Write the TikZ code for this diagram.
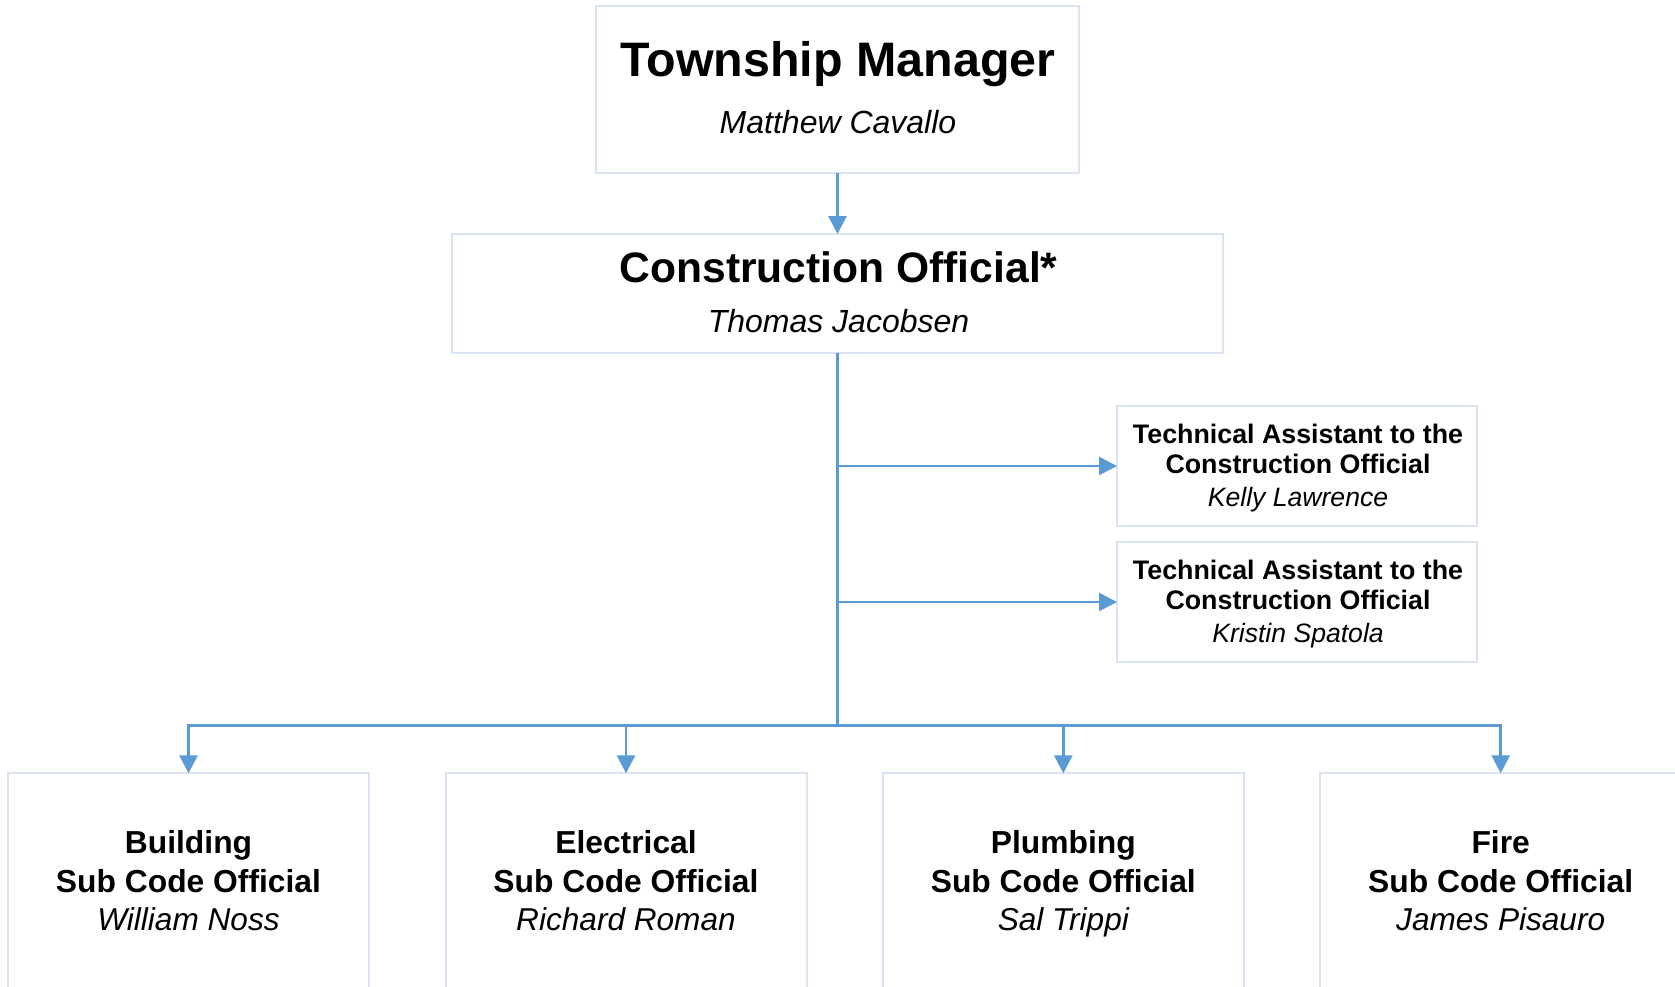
\documentclass[tikz,border=0pt]{standalone}
\usepackage{fontspec}
\setmainfont{Liberation Sans}
\usetikzlibrary{arrows.meta}
\definecolor{linkblue}{HTML}{5B9BD5}
\definecolor{boxline}{RGB}{218,227,243}
\begin{document}
\begin{tikzpicture}[x=1pt,y=-1pt,
  box/.style={rectangle,draw=boxline,line width=2pt,fill=white,inner sep=0pt,outer sep=0pt},
  conn/.style={draw=linkblue,line width=2.8pt},
  arr/.style={conn,-{Triangle[length=18pt,width=18pt]}},
  lbl/.style={anchor=base,inner sep=0pt,outer sep=0pt},
  big/.style={lbl,font=\fontsize{48.4}{56}\selectfont\bfseries},
  bigname/.style={lbl,font=\fontsize{32}{36}\selectfont\itshape},
  mid/.style={lbl,font=\fontsize{42.6}{50}\selectfont\bfseries},
  midname/.style={lbl,font=\fontsize{32}{36}\selectfont\itshape},
  small/.style={lbl,font=\fontsize{26.8}{30}\selectfont\bfseries},
  smallname/.style={lbl,font=\fontsize{26.6}{30}\selectfont\itshape},
  sub/.style={lbl,font=\fontsize{31.8}{36}\selectfont\bfseries},
  subname/.style={lbl,font=\fontsize{31.6}{36}\selectfont\itshape},
]
\useasboundingbox (0,0) rectangle (1675,986);
\clip (0,0) rectangle (1675,986);

% boxes
\node[box,minimum width=483,minimum height=167] (tm) at (837.5,89.5) {};
\node[box,minimum width=771,minimum height=119] (co) at (837.5,293.5) {};
\node[box,minimum width=360,minimum height=120] (t1) at (1297,466) {};
\node[box,minimum width=360,minimum height=120] (t2) at (1297,602) {};
\node[box,minimum width=361,minimum height=217] (b1) at (188.5,881.8) {};
\node[box,minimum width=361,minimum height=217] (b2) at (626,881.8) {};
\node[box,minimum width=361,minimum height=217] (b3) at (1063.3,881.8) {};
\node[box,minimum width=361,minimum height=217] (b4) at (1500.7,881.8) {};

% texts
\node[big] (tmA) at (838,76.7) {Township Manager};
\node[bigname] (tmB) at (838,133.5) {Matthew Cavallo};
\node[mid] (coA) at (838.5,282.7) {Construction Official*};
\node[midname] (coB) at (838.5,332.7) {Thomas Jacobsen};

\node[small] (t1A) at (1298,443.3) {Technical Assistant to the};
\node[small] (t1B) at (1298,473.3) {Construction Official};
\node[smallname] (t1C) at (1298,506) {Kelly Lawrence};
\node[small] (t2A) at (1298,579.6) {Technical Assistant to the};
\node[small] (t2B) at (1298,609.8) {Construction Official};
\node[smallname] (t2C) at (1298,642.3) {Kristin Spatola};

\node[sub] (b1A) at (188.5,853.3) {Building};
\node[sub] (b1B) at (188.5,892.7) {Sub Code Official};
\node[subname] (b1C) at (188.5,930) {William Noss};
\node[sub] (b2A) at (626,853.3) {Electrical};
\node[sub] (b2B) at (626,892.7) {Sub Code Official};
\node[subname] (b2C) at (626,930) {Richard Roman};
\node[sub] (b3A) at (1063.3,853.3) {Plumbing};
\node[sub] (b3B) at (1063.3,892.7) {Sub Code Official};
\node[subname] (b3C) at (1063.3,930) {Sal Trippi};
\node[sub] (b4A) at (1500.7,853.3) {Fire};
\node[sub] (b4B) at (1500.7,892.7) {Sub Code Official};
\node[subname] (b4C) at (1500.7,930) {James Pisauro};

% connectors
\coordinate (bus) at (837.5,725.7);
\draw[arr] (tm.south) -- (co.north);
\draw[conn] (co.south) -- (bus);
\draw[arr] (co.south |- t1.west) -- (t1.west);
\draw[arr] (co.south |- t2.west) -- (t2.west);
\foreach \b in {b1,b2,b3,b4} \draw[arr] (bus) -| (\b.north);
\end{tikzpicture}
\end{document}
